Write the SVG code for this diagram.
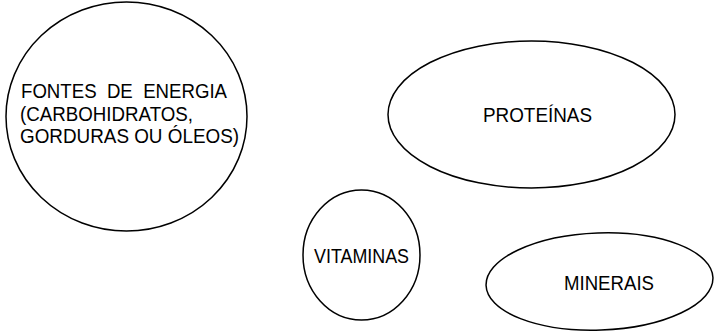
<svg xmlns="http://www.w3.org/2000/svg" width="714" height="333" viewBox="0 0 714 333">
<style>
.n{fill:none;stroke:#000;stroke-width:1.5}
.t{font-family:"Liberation Sans",Arial,sans-serif;font-size:20px;fill:#000}
</style>
<rect width="714" height="333" fill="#fff"/>
<g id="fontes">
<ellipse class="n" cx="126.5" cy="116.5" rx="120.5" ry="114.5"/>
<text class="t" x="21" y="98" textLength="206" lengthAdjust="spacingAndGlyphs" xml:space="preserve">FONTES  DE  ENERGIA</text>
<text class="t" x="20" y="120.5" textLength="173" lengthAdjust="spacingAndGlyphs">(CARBOHIDRATOS,</text>
<text class="t" x="20" y="142.5" textLength="219" lengthAdjust="spacingAndGlyphs">GORDURAS OU ÓLEOS)</text>
</g>
<g id="proteinas">
<ellipse class="n" cx="531.5" cy="114.5" rx="143.5" ry="73.5"/>
<text class="t" x="483" y="122.3" textLength="109" lengthAdjust="spacingAndGlyphs">PROTEÍNAS</text>
</g>
<g id="vitaminas">
<ellipse class="n" cx="361.5" cy="255" rx="58.5" ry="65"/>
<text class="t" x="314" y="263" textLength="95" lengthAdjust="spacingAndGlyphs">VITAMINAS</text>
</g>
<g id="minerais">
<ellipse class="n" cx="599.5" cy="281.5" rx="113.5" ry="48.5" transform="rotate(-2 599.5 281.5)"/>
<text class="t" x="564" y="290" textLength="90" lengthAdjust="spacingAndGlyphs">MINERAIS</text>
</g>
<g id="connectors"></g>
</svg>
